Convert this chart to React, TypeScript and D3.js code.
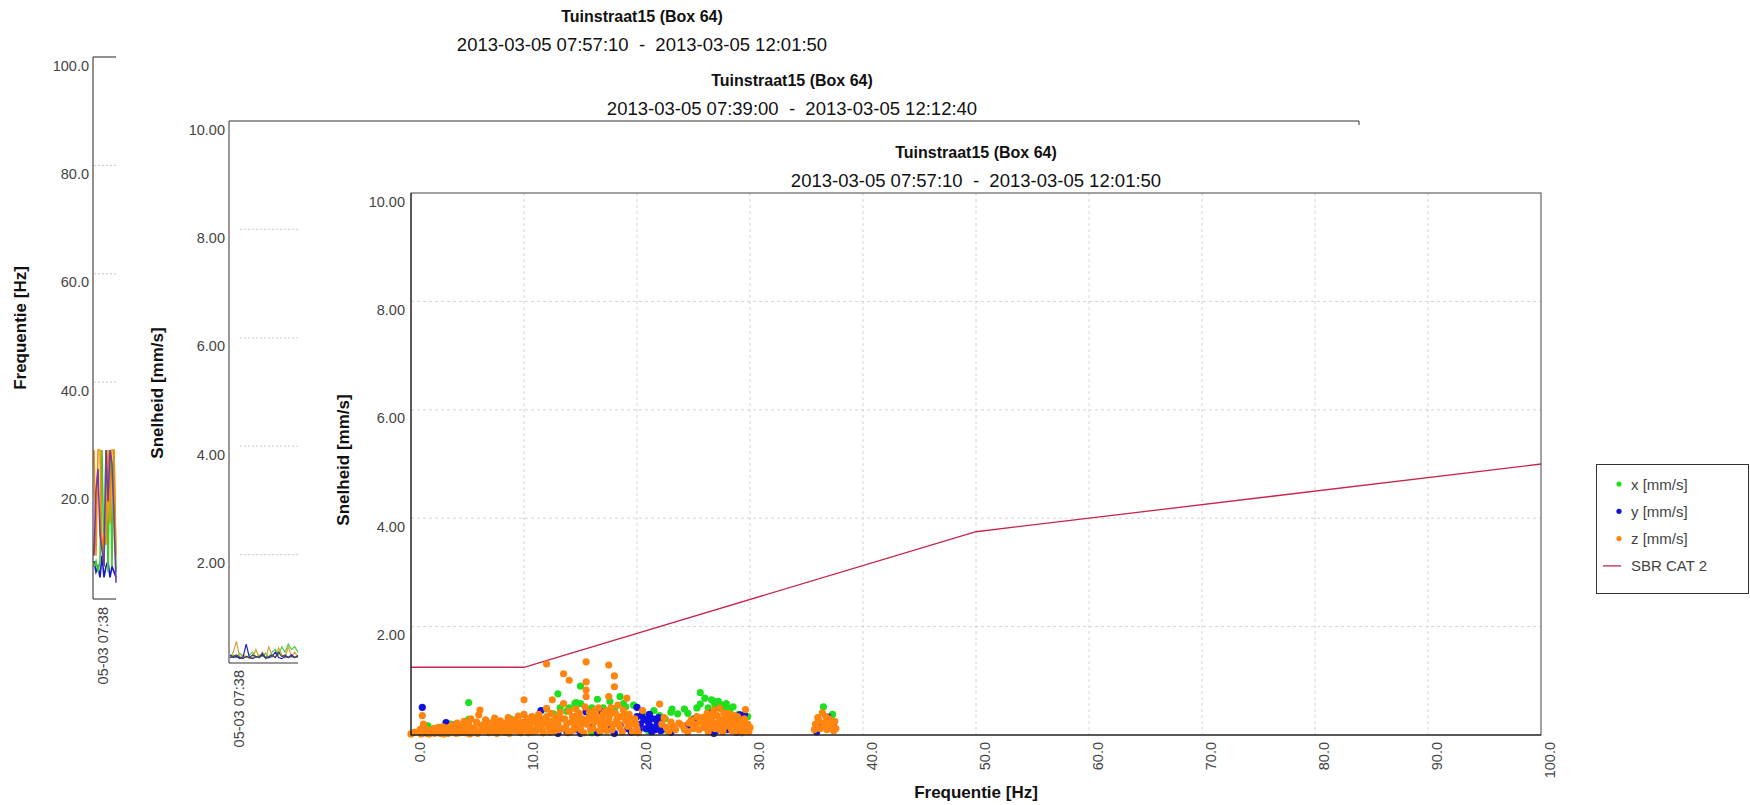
import React, { useEffect, useRef } from 'react';
import * as d3 from 'd3';

// titles / labels
const TITLE = 'Tuinstraat15 (Box 64)';
const PERIOD_A = '2013-03-05 07:57:10  -  2013-03-05 12:01:50';
const PERIOD_B = '2013-03-05 07:39:00  -  2013-03-05 12:12:40';
const TIME_LABEL = '05-03 07:38';

// ticks
const freqTicks = [20, 40, 60, 80, 100];
const speedTicks = [2, 4, 6, 8, 10];
const hzTicks = [0, 10, 20, 30, 40, 50, 60, 70, 80, 90, 100];

// chart 1: dominant frequency over time [Hz]
const freqOrange = [27.5, 8, 27.5, 27.5, 9, 12, 10, 27.5, 14, 27.5, 27.5, 8];
const freqPurple = [8, 20, 24, 12, 9, 6, 27.5, 18, 27.5, 25, 15, 3];
const freqGreen = [6, 7, 5, 7, 27.5, 6, 27.5, 5, 27.5, 6, 27.5, 5];
const freqBlue = [7, 5, 6, 4, 8, 4, 6, 7, 4, 6, 5, 4];

// chart 2: velocity over time [mm/s]
const velBlue = [0.15, 0.1, 0.12, 0.08, 0.1, 0.35, 0.1, 0.08, 0.12, 0.1, 0.15, 0.09, 0.1, 0.12, 0.2, 0.1, 0.08, 0.12, 0.1, 0.15, 0.1, 0.12];
const velOrange = [0.1, 0.2, 0.4, 0.1, 0.15, 0.12, 0.08, 0.1, 0.25, 0.1, 0.2, 0.08, 0.3, 0.12, 0.1, 0.28, 0.15, 0.1, 0.3, 0.12, 0.2, 0.1];
const velGreen = [0.12, 0.15, 0.1, 0.18, 0.12, 0.1, 0.15, 0.2, 0.1, 0.15, 0.12, 0.18, 0.1, 0.2, 0.25, 0.15, 0.3, 0.2, 0.35, 0.25, 0.3, 0.2];
const velDark = [0.1, 0.12, 0.15, 0.1, 0.08, 0.12, 0.1, 0.15, 0.12, 0.1, 0.18, 0.1, 0.12, 0.15, 0.1, 0.2, 0.12, 0.15, 0.1, 0.12, 0.1, 0.14];

// chart 3: [frequency Hz, velocity mm/s]
const sbrCat2 = [[0, 1.25], [10, 1.25], [50, 3.75], [100, 5.0]];

const xPoints = [
  [1.5, 0.17], [2.5, 0.12], [3.5, 0.2], [4.2, 0.1], [5.1, 0.6], [5.1, 0.29], [6.5, 0.2], [7.5, 0.14], [8.8, 0.3],
  [9.8, 0.22], [11.0, 0.3], [12.6, 0.39], [13.0, 0.76], [13.2, 0.5], [13.8, 0.44], [14.5, 0.58], [15.0, 0.9],
  [15.0, 0.58], [14.6, 0.6], [15.8, 0.4], [16.5, 0.66], [16.7, 0.06], [17.0, 0.5], [17.6, 0.62], [18.0, 0.48],
  [18.5, 0.71], [19.0, 0.52], [19.7, 0.55], [20.5, 0.4], [21.0, 0.08], [22.0, 0.36], [22.5, 0.3], [23.1, 0.48],
  [23.6, 0.39], [24.5, 0.4], [25.0, 0.3], [25.6, 0.78], [25.6, 0.57], [26.0, 0.68], [26.3, 0.5], [26.6, 0.65],
  [26.9, 0.56], [27.2, 0.62], [27.5, 0.48], [27.9, 0.58], [28.2, 0.44], [28.5, 0.52], [29.0, 0.38], [29.8, 0.34],
  [36.5, 0.52], [37.3, 0.38], [36.9, 0.25], [12.0, 0.48], [14.0, 0.5], [16.0, 0.5], [17.3, 0.45], [18.8, 0.58],
  [25.3, 0.5], [26.8, 0.62], [27.6, 0.55], [28.0, 0.5], [24.2, 0.48], [21.5, 0.45], [23.0, 0.42], [20.0, 0.06],
  [16.0, 0.04], [22.5, 0.1],
];

const yPoints = [
  [1.0, 0.51], [1.1, 0.17], [1.0, 0.08], [1.3, 0.04], [3.1, 0.23], [4.0, 0.2], [5.5, 0.12], [7.0, 0.08], [9.0, 0.1],
  [11.5, 0.45], [12.5, 0.2], [13.8, 0.06], [14.5, 0.1], [15.5, 0.43], [16.0, 0.15], [16.9, 0.43], [17.5, 0.1],
  [18.5, 0.18], [19.2, 0.12], [20.0, 0.51], [20.0, 0.34], [20.3, 0.2], [20.6, 0.28], [20.8, 0.12], [21.0, 0.24],
  [21.2, 0.16], [21.4, 0.3], [21.6, 0.1], [21.8, 0.2], [22.0, 0.26], [22.3, 0.14], [24.5, 0.18], [25.0, 0.29],
  [26.0, 0.24], [26.5, 0.4], [27.0, 0.08], [27.5, 0.18], [28.0, 0.1], [28.6, 0.22], [29.1, 0.37], [29.5, 0.37],
  [29.6, 0.12], [35.9, 0.06], [36.3, 0.2], [36.9, 0.33], [37.4, 0.15], [13.0, 0.03], [15.0, 0.03], [16.5, 0.04],
  [18.0, 0.03], [19.5, 0.05], [23.0, 0.05], [26.8, 0.03], [28.8, 0.05], [20.4, 0.36], [20.9, 0.3], [21.3, 0.06],
  [21.9, 0.32], [22.1, 0.08], [20.2, 0.1], [21.1, 0.38],
];

const zPoints = [
  [0, 0.02], [0.3, 0.05], [0.8, 0.1], [1.0, 0.36], [1.1, 0.2], [1.0, 0.06], [1.2, 0.12],
  [1.5, 0.04], [1.8, 0.08], [2.0, 0.12], [2.3, 0.05], [2.5, 0.1], [2.8, 0.15], [2.6, 0.03], [3.0, 0.08],
  [3.2, 0.13], [3.5, 0.06], [3.6, 0.18], [3.9, 0.1], [4.1, 0.22], [4.3, 0.04], [4.5, 0.15], [4.7, 0.25], [4.9, 0.09],
  [5.1, 0.2], [5.3, 0.3], [5.4, 0.05], [5.6, 0.13], [5.8, 0.24], [6.0, 0.37], [6.1, 0.46], [6.2, 0.18], [6.4, 0.08],
  [6.6, 0.28], [6.8, 0.14], [7.0, 0.22], [7.2, 0.06], [7.4, 0.31], [7.5, 0.18], [7.7, 0.1], [7.9, 0.26], [8.1, 0.16],
  [8.3, 0.05], [8.5, 0.22], [8.6, 0.32], [8.8, 0.12], [9.0, 0.2], [9.2, 0.28], [9.3, 0.08], [9.5, 0.35], [9.6, 0.16],
  [9.8, 0.24], [10.0, 0.65], [10.0, 0.38], [10.1, 0.1], [10.3, 0.3], [10.5, 0.2], [10.7, 0.34], [10.8, 0.06], [11.0, 0.26],
  [11.2, 0.16], [11.3, 0.38], [11.5, 0.3], [11.6, 0.1], [11.8, 0.22], [12.0, 1.31], [12.0, 0.49], [12.0, 0.34],
  [12.2, 0.14], [12.4, 0.4], [12.5, 0.65], [12.5, 0.26], [12.7, 0.08], [12.9, 0.32], [13.0, 0.2], [13.2, 0.42],
  [13.5, 1.13], [13.5, 0.58], [13.4, 0.12], [13.6, 0.3], [13.8, 0.22], [14.0, 1.01], [14.0, 0.44], [14.1, 0.06],
  [14.3, 0.34], [14.5, 0.16], [14.6, 0.48], [14.8, 0.26], [14.9, 0.4], [15.0, 0.1], [15.2, 0.3], [15.5, 1.35],
  [15.5, 0.98], [15.5, 0.83], [15.5, 0.71], [15.4, 0.52], [15.6, 0.2], [15.8, 0.42], [16.0, 0.34], [16.1, 0.12],
  [16.3, 0.46], [16.5, 0.26], [16.6, 0.5], [16.8, 0.18], [17.0, 0.38], [17.2, 0.44], [17.3, 0.08], [17.5, 1.29],
  [17.5, 0.71], [17.5, 0.3], [17.7, 0.5], [17.9, 0.2], [18.0, 1.09], [18.0, 0.89], [18.1, 0.4], [18.3, 0.55],
  [18.5, 0.14], [18.6, 0.34], [18.8, 0.46], [19.0, 0.26], [19.1, 0.68], [19.3, 0.38], [19.5, 0.2], [19.8, 0.3],
  [20.0, 0.12], [20.5, 0.45], [22.0, 0.57], [22.2, 0.2],
  [22.6, 0.14], [23.0, 0.24], [23.4, 0.1], [24.0, 0.18], [24.5, 0.06], [24.8, 0.28], [25.2, 0.2], [25.5, 0.1],
  [25.8, 0.32], [26.0, 0.22], [26.2, 0.4], [26.4, 0.14], [26.6, 0.3], [26.8, 0.46], [27.0, 0.2], [27.1, 0.36],
  [27.3, 0.49], [27.3, 0.1], [27.5, 0.28], [27.7, 0.4], [27.8, 0.16], [28.0, 0.32], [28.2, 0.22], [28.4, 0.08],
  [28.6, 0.36], [28.8, 0.18], [29.0, 0.28], [29.2, 0.12], [29.4, 0.24], [29.6, 0.47], [29.6, 0.1], [29.8, 0.2],
  [30.0, 0.14], [35.8, 0.2], [36.0, 0.32], [36.2, 0.12], [36.4, 0.41], [36.6, 0.22], [36.8, 0.1], [37.0, 0.3],
  [37.2, 0.18], [37.5, 0.25], [37.6, 0.12],
  [0.9, 0.02], [1.4, 0.1], [1.6, 0.02], [2.1, 0.03], [2.4, 0.14], [2.9, 0.02], [3.3, 0.03], [3.7, 0.1], [4.0, 0.03],
  [4.4, 0.1], [4.8, 0.04], [5.0, 0.14], [5.2, 0.02], [5.7, 0.08], [5.9, 0.03], [6.3, 0.12], [6.5, 0.2], [6.9, 0.04],
  [7.1, 0.13], [7.3, 0.24], [7.6, 0.03], [7.8, 0.15], [8.0, 0.08], [8.2, 0.22], [8.4, 0.13], [8.7, 0.03], [8.9, 0.26],
  [9.1, 0.1], [9.4, 0.2], [9.7, 0.04], [9.9, 0.12], [10.2, 0.2], [10.4, 0.04], [10.6, 0.12], [10.9, 0.24], [11.1, 0.08],
  [11.4, 0.2], [11.7, 0.04], [11.9, 0.3], [12.1, 0.22], [12.3, 0.05], [12.6, 0.16], [12.8, 0.24], [13.1, 0.1],
  [13.3, 0.3], [13.7, 0.14], [13.9, 0.04], [14.2, 0.24], [14.4, 0.1], [14.7, 0.36], [15.1, 0.2], [15.3, 0.04],
  [15.7, 0.3], [15.9, 0.1], [16.2, 0.24], [16.4, 0.36], [16.7, 0.08], [16.9, 0.28], [17.1, 0.16], [17.4, 0.22],
  [17.6, 0.38], [17.8, 0.1], [18.2, 0.28], [18.4, 0.2], [18.7, 0.06], [18.9, 0.36], [19.2, 0.16], [19.4, 0.28],
  [19.6, 0.06], [19.9, 0.2], [20.1, 0.04], [22.4, 0.32], [22.8, 0.06],
  [23.2, 0.16], [23.7, 0.22], [24.2, 0.1], [24.6, 0.22], [25.0, 0.12], [25.3, 0.34], [25.6, 0.24], [25.9, 0.14],
  [26.1, 0.3], [26.3, 0.06], [26.5, 0.22], [26.7, 0.38], [26.9, 0.12], [27.2, 0.24], [27.4, 0.18], [27.6, 0.06],
  [27.9, 0.26], [28.1, 0.4], [28.3, 0.14], [28.5, 0.28], [28.7, 0.06], [28.9, 0.34], [29.1, 0.2], [29.3, 0.04],
  [29.5, 0.3], [29.7, 0.14], [29.9, 0.06], [35.7, 0.1], [36.1, 0.26], [36.5, 0.16], [36.7, 0.34], [37.1, 0.22],
  [37.4, 0.08],
];

const legendItems = ['x [mm/s]', 'y [mm/s]', 'z [mm/s]', 'SBR CAT 2'];

const FONT = '"Liberation Sans", Arial, sans-serif';
const C_GREEN = '#1ee01e';
const C_BLUE = '#1010e0';
const C_ORANGE = '#ff8410';
const C_SBR = '#c8244c';

export default function App() {
  const svgRef = useRef<SVGSVGElement>(null);

  useEffect(() => {
    if (!svgRef.current) return;
    const svg = d3.select(svgRef.current);
    svg.selectAll('*').remove();
    svg.attr('font-family', FONT);

    const title = (x: number, y1: number, y2: number, period: string) => {
      svg.append('text').attr('x', x).attr('y', y1).attr('text-anchor', 'middle')
        .attr('dominant-baseline', 'central').attr('font-size', 16).attr('fill', '#111')
        .attr('font-weight', 'bold').text(TITLE);
      svg.append('text').attr('x', x).attr('y', y2).attr('text-anchor', 'middle')
        .attr('dominant-baseline', 'central').attr('font-size', 18.5).attr('fill', '#111')
        .style('white-space', 'pre').text(period);
    };

    const yLabels = (ticks: number[], scale: d3.ScaleLinear<number, number>, xRight: number, fmt: (n: number) => string) => {
      svg.append('g').selectAll('text').data(ticks).join('text')
        .attr('x', xRight).attr('y', d => scale(d) + 8.5)
        .attr('text-anchor', 'end').attr('dominant-baseline', 'central')
        .attr('font-size', 14.5).attr('fill', '#444').text(d => fmt(d));
    };

    const rotLabel = (x: number, y: number, txt: string, bold: boolean, anchor: string, size: number, fill: string) => {
      svg.append('text').attr('transform', `translate(${x},${y}) rotate(-90)`)
        .attr('text-anchor', anchor).attr('dominant-baseline', 'central')
        .attr('font-size', size).attr('font-weight', bold ? 'bold' : 'normal')
        .attr('fill', fill).text(txt);
    };

    // ---------- chart 1 (frequency over time) ----------
    title(642, 16, 44, PERIOD_A);
    const y1 = d3.scaleLinear().domain([0, 100]).range([599, 57]);
    const x1 = d3.scaleLinear().domain([0, freqOrange.length - 1]).range([94, 116]);
    svg.append('g').selectAll('line').data([40, 60, 80]).join('line')
      .attr('x1', 94).attr('x2', 116).attr('y1', d => y1(d)).attr('y2', d => y1(d))
      .attr('stroke', '#c8c8c8').attr('stroke-dasharray', '2,2');
    const line1 = d3.line<number>().x((d, i) => x1(i)).y(d => y1(d));
    [[freqBlue, '#1818c8'], [freqGreen, '#3ccc2c'], [freqOrange, '#ff8c00'], [freqPurple, '#7a3aa0']].forEach(([s, c]) => {
      svg.append('path').datum(s as number[]).attr('d', line1).attr('fill', 'none')
        .attr('stroke', c as string).attr('stroke-width', 1.6);
    });
    svg.append('path').attr('d', `M116,${y1(100)}H93V${y1(0)}H116`).attr('fill', 'none').attr('stroke', '#222');
    yLabels(freqTicks, y1, 89, d3.format('.1f'));
    rotLabel(20, 328, 'Frequentie [Hz]', true, 'middle', 17, '#111');
    rotLabel(x1(0) + 9, 607, TIME_LABEL, false, 'end', 14.5, '#444');

    // ---------- chart 2 (velocity over time) ----------
    title(792, 80, 108, PERIOD_B);
    const y2 = d3.scaleLinear().domain([0, 10]).range([663, 121]);
    const x2 = d3.scaleLinear().domain([0, velBlue.length - 1]).range([230, 298]);
    svg.append('g').selectAll('line').data([2, 4, 6, 8]).join('line')
      .attr('x1', 240).attr('x2', 298).attr('y1', d => y2(d)).attr('y2', d => y2(d))
      .attr('stroke', '#cfcfcf').attr('stroke-dasharray', '2,2');
    const line2 = d3.line<number>().x((d, i) => x2(i)).y(d => y2(d));
    [[velGreen, '#48d040'], [velOrange, '#d8a040'], [velBlue, '#2020c0'], [velDark, '#404050']].forEach(([s, c]) => {
      svg.append('path').datum(s as number[]).attr('d', line2).attr('fill', 'none')
        .attr('stroke', c as string).attr('stroke-width', 1.2);
    });
    svg.append('path').attr('d', `M1359,125V${y2(10)}H229V${y2(0)}H298`).attr('fill', 'none').attr('stroke', '#333');
    yLabels(speedTicks, y2, 225, d3.format('.2f'));
    rotLabel(157, 393, 'Snelheid [mm/s]', true, 'middle', 17, '#111');
    rotLabel(x2(0) + 9, 670, TIME_LABEL, false, 'end', 14.5, '#444');

    // ---------- chart 3 (velocity vs frequency) ----------
    title(976, 152, 180, PERIOD_A);
    const x3 = d3.scaleLinear().domain([0, 100]).range([411, 1541]);
    const y3 = d3.scaleLinear().domain([0, 10]).range([735, 193]);
    const grid = svg.append('g').attr('stroke', '#d4d4d4').attr('stroke-dasharray', '3,3');
    grid.selectAll('.gx').data(hzTicks.slice(1, -1)).join('line')
      .attr('x1', d => x3(d)).attr('x2', d => x3(d)).attr('y1', y3(10)).attr('y2', y3(0));
    grid.selectAll('.gy').data(speedTicks.slice(0, -1)).join('line')
      .attr('x1', x3(0)).attr('x2', x3(100)).attr('y1', d => y3(d)).attr('y2', d => y3(d));

    svg.append('path').datum(sbrCat2).attr('fill', 'none').attr('stroke', C_SBR).attr('stroke-width', 1.3)
      .attr('d', d3.line<number[]>().x(d => x3(d[0])).y(d => y3(d[1])));

    const dots = (pts: number[][], color: string) => {
      svg.append('g').selectAll('circle').data(pts).join('circle')
        .attr('cx', d => x3(d[0])).attr('cy', d => y3(d[1])).attr('r', 3.6).attr('fill', color);
    };
    dots(xPoints, C_GREEN);
    dots(yPoints, C_BLUE);
    dots(zPoints, C_ORANGE);

    svg.append('rect').attr('x', x3(0)).attr('y', y3(10)).attr('width', x3(100) - x3(0))
      .attr('height', y3(0) - y3(10)).attr('fill', 'none').attr('stroke', '#444');
    svg.append('path').attr('d', `M${x3(0)},${y3(10)}V${y3(0)}H${x3(100)}`).attr('fill', 'none').attr('stroke', '#111');

    yLabels(speedTicks, y3, 405, d3.format('.2f'));
    svg.append('g').selectAll('text').data(hzTicks).join('text')
      .attr('transform', d => `translate(${x3(d) + 8.5},${y3(0) + 7}) rotate(-90)`)
      .attr('text-anchor', 'end').attr('dominant-baseline', 'central')
      .attr('font-size', 14.5).attr('fill', '#444').text(d => d3.format('.1f')(d));
    rotLabel(343, 460, 'Snelheid [mm/s]', true, 'middle', 17, '#111');
    svg.append('text').attr('x', 976).attr('y', 792).attr('text-anchor', 'middle')
      .attr('dominant-baseline', 'central').attr('font-size', 17).attr('font-weight', 'bold')
      .attr('fill', '#111').text('Frequentie [Hz]');

    // legend
    const lg = svg.append('g');
    lg.append('rect').attr('x', 1596.5).attr('y', 464.5).attr('width', 152).attr('height', 129)
      .attr('fill', '#fff').attr('stroke', '#333');
    const colors = [C_GREEN, C_BLUE, C_ORANGE];
    legendItems.forEach((txt, i) => {
      const cy = 484 + i * 27.3;
      if (i < 3) {
        lg.append('circle').attr('cx', 1619).attr('cy', cy).attr('r', 2.6).attr('fill', colors[i]);
      } else {
        lg.append('line').attr('x1', 1603).attr('x2', 1621).attr('y1', cy).attr('y2', cy)
          .attr('stroke', C_SBR).attr('stroke-width', 1.3);
      }
      lg.append('text').attr('x', 1631).attr('y', cy).attr('dominant-baseline', 'central')
        .attr('font-size', 15).attr('fill', '#444').text(txt);
    });
  }, []);

  return (
    <svg ref={svgRef} width={1750} height={805}
      style={{ position: 'absolute', left: 0, top: 0, background: '#fff' }} />
  );
}
